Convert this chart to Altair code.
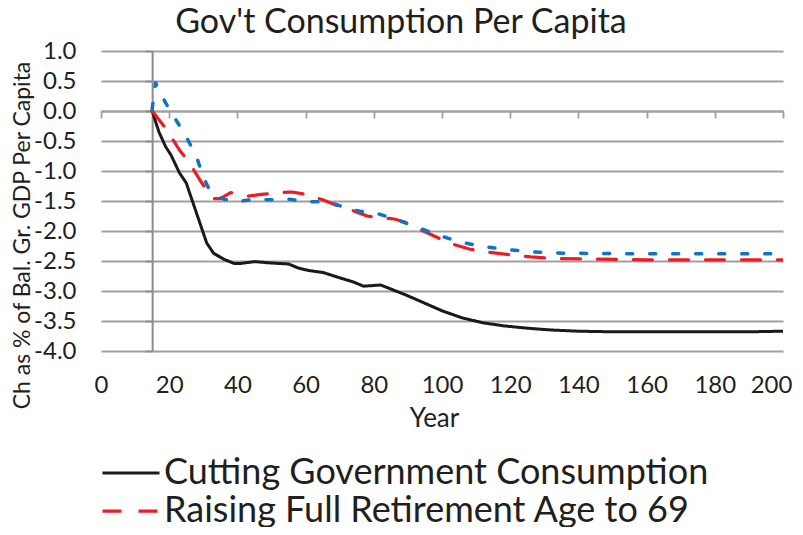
import altair as alt
import pandas as pd

# ---------------- data ----------------
SERIES = [
    "Cutting Government Consumption",
    "Raising Full Retirement Age to 69",
    "Third Policy Option",
]
COLORS = ["#1a1a1a", "#ED1C24", "#1472C2"]
DASHES = [[1, 0], [19, 17], [6, 17]]
WIDTHS = [3.0, 3.5, 3.5]

X_TICKS = [0, 20, 40, 60, 80, 100, 120, 140, 160, 180, 200]
Y_TICKS = [1.0, 0.5, 0.0, -0.5, -1.0, -1.5, -2.0, -2.5, -3.0, -3.5, -4.0]

cut_year = [15, 17, 19, 20.5, 23, 25, 28, 31, 33, 36, 39, 41, 45, 49, 55, 58, 61, 65,
            70, 74, 77, 82, 86, 90, 94, 100, 106, 112, 118, 125, 132, 140, 150, 160,
            170, 180, 190, 200]
cut_value = [0.0, -0.35, -0.6, -0.73, -1.03, -1.2, -1.7, -2.2, -2.37, -2.47, -2.54, -2.54,
             -2.51, -2.53, -2.55, -2.62, -2.66, -2.69, -2.78, -2.85, -2.92, -2.9, -2.99,
             -3.08, -3.18, -3.33, -3.45, -3.53, -3.58, -3.62, -3.65, -3.67, -3.68, -3.68,
             -3.68, -3.68, -3.68, -3.67]

ret_year = [15, 19, 23, 26, 29, 31, 33, 35, 38, 40, 43, 47, 52, 56, 60, 65, 69, 73, 78,
            82, 86, 89, 93, 98, 102, 108, 113, 119, 126, 133, 145, 160, 180, 200]
ret_value = [0.0, -0.29, -0.65, -0.87, -1.15, -1.32, -1.46, -1.46, -1.36, -1.38, -1.42,
             -1.39, -1.36, -1.35, -1.39, -1.48, -1.57, -1.64, -1.75, -1.78, -1.8, -1.85,
             -1.96, -2.09, -2.2, -2.3, -2.35, -2.39, -2.43, -2.46, -2.47, -2.48, -2.48, -2.48]

third_year = [15, 16, 17.5, 19, 22, 25, 28, 30, 32, 34, 36, 40, 44, 49, 55, 61, 67, 72,
              76, 80, 85, 91, 98, 105, 112, 119, 127, 136, 156, 200]
third_value = [0.03, 0.47, 0.3, 0.13, -0.15, -0.43, -0.76, -1.1, -1.34, -1.43, -1.47,
               -1.51, -1.48, -1.48, -1.47, -1.51, -1.52, -1.62, -1.67, -1.69, -1.78, -1.9,
               -2.05, -2.18, -2.26, -2.31, -2.35, -2.37, -2.38, -2.38]

rows = []
for name, years, vals in [(SERIES[0], cut_year, cut_value),
                          (SERIES[1], ret_year, ret_value),
                          (SERIES[2], third_year, third_value)]:
    for yr, v in zip(years, vals):
        rows.append({"year": yr, "value": v, "series": name})
df = pd.DataFrame(rows)

# ---------------- chart ----------------
W, H = 682, 300
FONT = "Lato"
TXT = "#1f1f1f"
GRID = "#a0a0a0"

x_scale = alt.Scale(domain=[0, 200], nice=False, zero=False)
y_scale = alt.Scale(domain=[-4, 1], nice=False, zero=False)
minus_fix = "replace(format(datum.value, '.1f'), '\u2212', '-')"

legend = alt.Legend(
    orient="none", legendX=12, legendY=404, title=None,
    values=SERIES[:2], direction="vertical",
    labelFont=FONT, labelFontSize=36, labelColor=TXT, labelLimit=0,
    symbolType="M-3,0H3", symbolSize=361, symbolStrokeWidth=3,
    labelOffset=15, rowPadding=2, padding=0,
)

lines = alt.Chart(df).mark_line(strokeCap="round", strokeJoin="round", clip=True).encode(
    x=alt.X("year:Q", scale=x_scale, axis=alt.Axis(
        orient="bottom", values=X_TICKS, title="Year", grid=False, ticks=False,
        domain=False, labelFont=FONT, labelFontSize=24, labelColor=TXT,
        labelPadding=22, labelFlush=False,
        labelOffset={"condition": {"test": "datum.value == 200", "value": -12}, "value": 0},
        titleFont=FONT, titleFontSize=26,
        titleFontWeight="normal", titleColor=TXT, titleX=333, titleY=67,
        titleBaseline="middle")),
    y=alt.Y("value:Q", scale=y_scale, axis=alt.Axis(
        orient="left", values=Y_TICKS, labelExpr=minus_fix,
        title="Ch as % of Bal. Gr. GDP Per Capita", grid=True, gridColor=GRID,
        gridWidth=1.8, ticks=False, domain=False, labelFont=FONT, labelFontSize=24,
        labelColor=TXT, labelPadding=25, titleFont=FONT, titleFontSize=23,
        titleFontWeight="normal", titleColor=TXT, titleX=-79, titleY=184,
        titleBaseline="middle", titleAngle=-90)),
    color=alt.Color("series:N", scale=alt.Scale(domain=SERIES, range=COLORS), legend=legend),
    strokeDash=alt.StrokeDash("series:N", scale=alt.Scale(domain=SERIES, range=DASHES), legend=legend),
    strokeWidth=alt.StrokeWidth("series:N", scale=alt.Scale(domain=SERIES, range=WIDTHS), legend=None),
)

axes = alt.Chart(df).mark_point(opacity=0).encode(
    x=alt.X("year:Q", scale=x_scale, axis=alt.Axis(
        orient="bottom", offset=-240, values=X_TICKS, labels=False, title=None,
        grid=False, ticks=True, tickSize=7, tickWidth=1.8, tickColor=GRID,
        domain=True, domainColor=GRID, domainWidth=1.8)),
    y=alt.Y("value:Q", scale=y_scale, axis=alt.Axis(
        orient="left", offset=-15 * W / 200, values=Y_TICKS, labels=False, title=None,
        grid=False, ticks=True, tickSize=7, tickWidth=1.8, tickColor="#8c8c8c",
        domain=True, domainColor="#8c8c8c", domainWidth=2)),
)

chart = alt.layer(axes, lines).resolve_axis(x="independent", y="independent").properties(
    width=W, height=H,
    autosize=alt.AutoSizeParams(type="none"),
    padding={"left": 93, "top": 43, "right": 12, "bottom": 176},
    background="white",
    title=alt.TitleParams(
        text="Gov't Consumption Per Capita", font=FONT, fontSize=34,
        fontWeight="normal", color=TXT, anchor="middle", dx=-41, dy=15, offset=14),
).configure_view(stroke=None)

chart.save("out.html", embed_options={"renderer": "svg", "actions": False})
